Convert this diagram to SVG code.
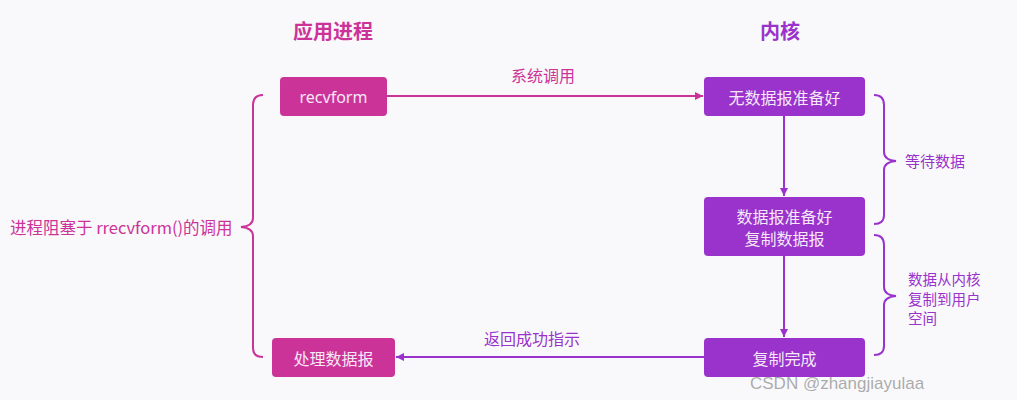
<svg xmlns="http://www.w3.org/2000/svg" width="1017" height="400" viewBox="0 0 1017 400">
<defs>
<style>
text{font-family:"Noto Sans CJK SC","Noto Sans",sans-serif;}
.title{font-size:20px;font-weight:bold;text-anchor:middle;}
.bt{font-size:16px;fill:#f6e8f6;text-anchor:middle;dominant-baseline:central;}
.lbl{font-size:16px;}
.bl{font-size:15px;}
.bs{font-size:14.5px;}
.m{fill:#cc3399;}
.p{fill:#9933cc;}
.lm{stroke:#cc3399;stroke-width:2;fill:none;}
.lp{stroke:#9933cc;stroke-width:2;fill:none;}
</style>
<marker id="am" viewBox="0 0 10 10" refX="10" refY="5" markerWidth="8" markerHeight="8" markerUnits="userSpaceOnUse" orient="auto"><path d="M0,0 L10,5 L0,10 z" fill="#cc3399"/></marker>
<marker id="ap" viewBox="0 0 10 10" refX="10" refY="5" markerWidth="8" markerHeight="8" markerUnits="userSpaceOnUse" orient="auto"><path d="M0,0 L10,5 L0,10 z" fill="#9933cc"/></marker>
</defs>
<rect width="1017" height="400" fill="#f9f9fb"/>
<text class="title m" x="333" y="39">应用进程</text>
<text class="title p" x="780" y="39">内核</text>

<g id="connectors">
<line x1="387" y1="96" x2="703" y2="96" class="lm" marker-end="url(#am)"/>
<line x1="784" y1="116" x2="784" y2="196" class="lp" marker-end="url(#ap)"/>
<line x1="784" y1="256" x2="784" y2="337" class="lp" marker-end="url(#ap)"/>
<line x1="704" y1="357" x2="396" y2="357" class="lp" marker-end="url(#ap)"/>
<text class="lbl m" x="543" y="82" text-anchor="middle">系统调用</text>
<text class="lbl p" x="532" y="345" text-anchor="middle">返回成功指示</text>
</g>

<g id="recvform"><rect x="280" y="77" width="107" height="39" rx="4" class="m"/><text class="bt" x="333.5" y="96.5" style="font-family:'Noto Sans',sans-serif">recvform</text></g>
<g id="nodata"><rect x="704" y="77" width="161" height="39" rx="4" class="p"/><text class="bt" x="784.5" y="96.5">无数据报准备好</text></g>
<g id="ready"><rect x="704" y="197" width="161" height="59" rx="4" class="p"/><text class="bt" x="784.5" y="216">数据报准备好</text><text class="bt" x="784.5" y="238">复制数据报</text></g>
<g id="done"><rect x="704" y="338" width="161" height="39" rx="4" class="p"/><text class="bt" x="784.5" y="357.5">复制完成</text></g>
<g id="process"><rect x="272" y="338" width="123" height="39" rx="4" class="m"/><text class="bt" x="333.5" y="357.5">处理数据报</text></g>

<g id="brace-left">
<path class="lm" d="M263,95 Q253,95 253,105 L253,218 Q253,226 241,227 Q253,228 253,236 L253,348 Q253,357 263,357"/>
<text class="m" x="10" y="233.5" font-size="16.5">进程阻塞于 rrecvform()的调用</text>
</g>
<g id="brace-wait">
<path class="lp" d="M874,95 Q884,95 884,105 L884,152 Q884,160 896,161 Q884,162 884,170 L884,215 Q884,224 874,224"/>
<text class="bl p" x="905" y="167">等待数据</text>
</g>
<g id="brace-copy">
<path class="lp" d="M874,235 Q884,235 884,245 L884,287 Q884,295 896,296 Q884,297 884,305 L884,346 Q884,355 874,355"/>
<text class="bs p" x="908" y="285">数据从内核</text>
<text class="bs p" x="908" y="304.5">复制到用户</text>
<text class="bs p" x="908" y="324">空间</text>
</g>
<text x="750" y="389" font-size="17" fill="#888" fill-opacity="0.7" style="font-family:'Liberation Sans',sans-serif">CSDN @zhangjiayulaa</text>
</svg>
